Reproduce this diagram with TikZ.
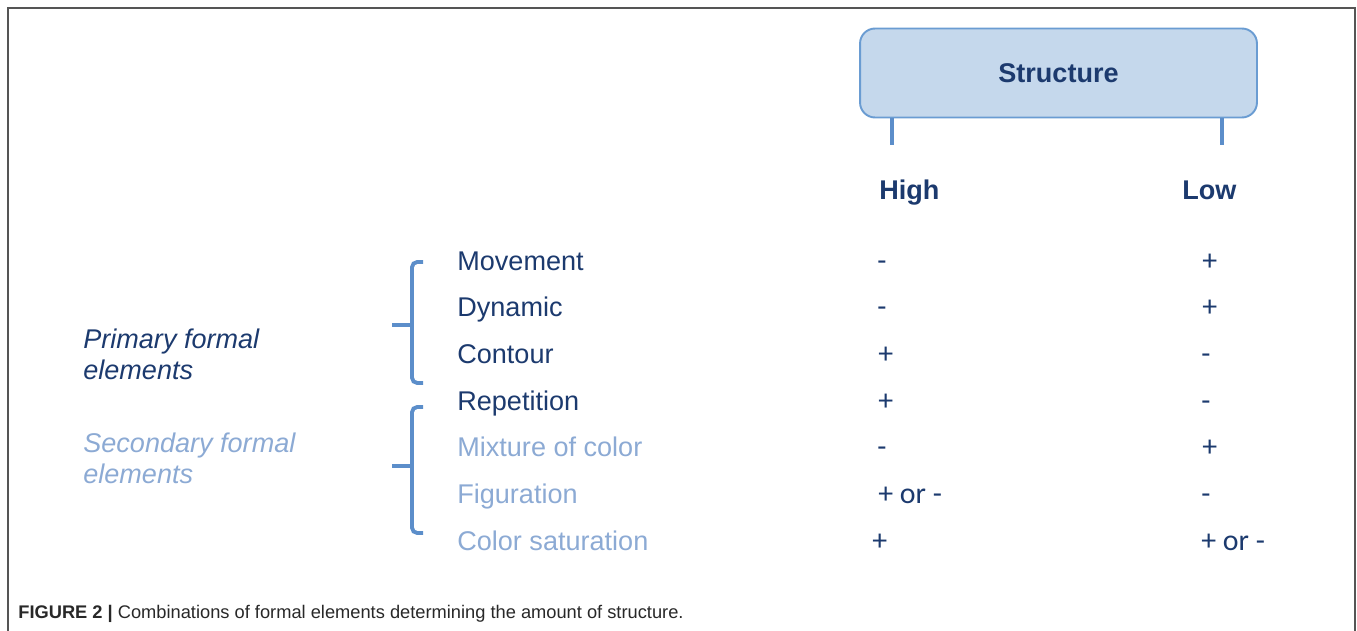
\documentclass[tikz,border=0pt]{standalone}
\usepackage{fontspec}
\setmainfont{Liberation Sans}
\newfontfamily\signfont{Carlito}
\usepackage{xcolor}
\usetikzlibrary{positioning}
\definecolor{navy}{RGB}{28,58,110}
\definecolor{pale}{RGB}{140,170,212}
\definecolor{bracecol}{RGB}{92,142,202}
\definecolor{boxfill}{RGB}{197,216,236}
\definecolor{boxline}{RGB}{106,156,210}
\definecolor{framecol}{RGB}{85,85,85}
\definecolor{capcol}{RGB}{40,40,40}

\begin{document}
\begin{tikzpicture}[x=0.02cm, y=-0.02cm]
	\tikzstyle{every node} = [inner sep = 0pt, font = \fontsize{15.4}{17.6}\selectfont]
	\tikzstyle{dark} = [text = navy, anchor = base west]
	\tikzstyle{light} = [text = pale, anchor = base west]
	\tikzstyle{sign} = [text = navy, anchor = base west, font = \fontsize{17}{19}\selectfont\signfont]
	\tikzstyle{head} = [text = navy, anchor = base west, font = \fontsize{15.4}{17.6}\selectfont\bfseries]
	\tikzstyle{brace} = [draw = bracecol, line width = 2.2pt, rounded corners = 3pt]
\useasboundingbox (0,0) rectangle (1357,631);
	\path[draw = framecol, line width = 1.1pt] (8,631) -- (8,8) -- (1355,8) -- (1355,631);
% header
\node[draw = boxline, fill = boxfill, line width = 1.1pt, rounded corners = 0.3cm, minimum width = 7.94cm, minimum height = 1.78cm, text = navy, font = \fontsize{15.4}{17.6}\selectfont\bfseries] (s) at (1058.5,73) {Structure};
\node[head] (hi) at (879,200) {High};
\node[head] (lo) at (1182,200) {Low};
\coordinate (hleg) at (892,145);
\coordinate (lleg) at (1222,145);
	\path[draw = bracecol, line width = 2.2pt] (s.south -| hleg) -- (hleg);
	\path[draw = bracecol, line width = 2.2pt] (s.south -| lleg) -- (lleg);
% rows
\node[dark] (mov) at (457,271) {Movement};
\node[dark] (dyn) at (457,317) {Dynamic};
\node[dark] (con) at (457,364) {Contour};
\node[dark] (rep) at (457,411) {Repetition};
\node[light] (mix) at (457,457) {Mixture of color};
\node[light] (fig) at (457,504) {Figuration};
\node[light] (sat) at (457,551) {Color saturation};
% high column
\node[sign] at (877,271) {-};
\node[sign] at (877,317) {-};
\node[sign] at (878,364) {+};
\node[sign] at (878,411) {+};
\node[sign] at (877,457) {-};
\node[sign] at (878,504) {+ or -};
\node[sign] at (872,551) {+};
% low column
\node[sign] at (1202,271) {+};
\node[sign] at (1202,317) {+};
\node[sign] at (1201,364) {-};
\node[sign] at (1201,411) {-};
\node[sign] at (1202,457) {+};
\node[sign] at (1201,504) {-};
\node[sign] at (1201,551) {+ or -};
% groups
\node[text = navy, align = left, anchor = west, font = \fontsize{15.4}{17.6}\selectfont\itshape] (prim) at (83,354) {Primary formal\\elements};
\node[text = pale, align = left, anchor = west, font = \fontsize{15.4}{17.6}\selectfont\itshape] (sec) at (83,458) {Secondary formal\\elements};
	\path[brace] (423,262) -- (412,262) -- (412,383) -- (423,383);
	\path[draw = bracecol, line width = 2.2pt] (412,325) -- (392,325);
	\path[brace] (423,407) -- (412,407) -- (412,533) -- (423,533);
	\path[draw = bracecol, line width = 2.2pt] (412,466) -- (392,466);
% caption
\node[anchor = base west, text = capcol, font = \fontsize{10.4}{12}\selectfont] (cap) at (18,619) {\textbf{FIGURE 2 |} Combinations of formal elements determining the amount of structure.};
\end{tikzpicture}
\end{document}
